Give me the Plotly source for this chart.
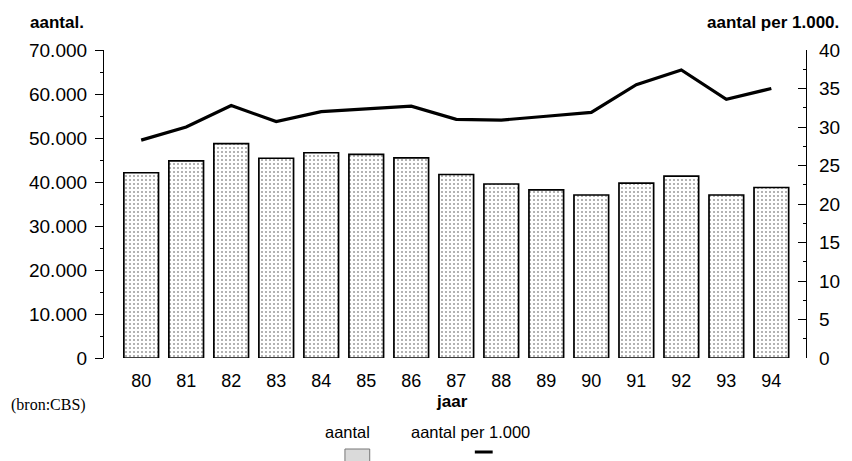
import plotly.graph_objects as go

jaren = [80, 81, 82, 83, 84, 85, 86, 87, 88, 89, 90, 91, 92, 93, 94]
jaar_labels = [str(j) for j in jaren]
aantal = [42100, 44800, 48700, 45400, 46650, 46300, 45500, 41700, 39550, 38200, 37050, 39750, 41350, 37050, 38750]
per_1000 = [28.3, 30.0, 32.8, 30.7, 32.0, 32.3, 32.7, 31.0, 30.9, 31.4, 31.9, 35.5, 37.4, 33.6, 35.0]
left_ticks = [0, 10000, 20000, 30000, 40000, 50000, 60000, 70000]
right_ticks = [0, 5, 10, 15, 20, 25, 30, 35, 40]

# page has an 8px body margin; figure is sized so it ends at the window edge
OFF = 8
PAGE_W, PAGE_H = 852, 461
W, H = PAGE_W - OFF, PAGE_H - OFF
PL, PR, PT, PB = 104, 812, 50, 358          # plot area in page pixels
L, R, T, B = PL - OFF, PAGE_W - PR, PT - OFF, PAGE_H - PB
PW, PH = PR - PL, PB - PT

def px(x):
    return (x - PL) / PW

def py(y):
    return (PB - y) / PH

SANS = "Liberation Sans, Arial, sans-serif"
SERIF = "Liberation Serif, Times New Roman, serif"

fig = go.Figure()
fig.add_trace(go.Bar(
    x=jaren, y=aantal, name="aantal", width=0.77,
    marker=dict(color="white", line=dict(color="black", width=1.7),
                pattern=dict(shape=".", fgcolor="#333", bgcolor="white", size=4, solidity=0.2)),
    yaxis="y", showlegend=False,
))
fig.add_trace(go.Scatter(
    x=jaren, y=per_1000, name="aantal per 1.000", mode="lines",
    line=dict(color="black", width=3.2), yaxis="y2", showlegend=False,
))

fig.update_layout(
    width=W, height=H, margin=dict(l=L, r=R, t=T, b=B, pad=0),
    paper_bgcolor="white", plot_bgcolor="white",
    separators=",.",
    font=dict(family=SANS, size=19, color="black"),
    xaxis=dict(range=[79.174, 94.77], tickvals=jaren, ticktext=jaar_labels,
               showgrid=False, zeroline=False, showline=False, ticks="",
               ticklabelstandoff=10, tickfont=dict(size=18)),
    yaxis=dict(range=[0, 70000], tickvals=left_ticks, tickformat=",",
               showgrid=False, zeroline=False, showline=True, linecolor="black", linewidth=1.2,
               ticks="outside", ticklen=8, tickwidth=1.2, tickcolor="black",
               minor=dict(dtick=5000, ticks="outside", ticklen=3, tickcolor="black", tickwidth=1),
               ticklabelstandoff=4, tickfont=dict(size=19)),
    yaxis2=dict(range=[0, 40], tickvals=right_ticks, overlaying="y", side="right",
                showgrid=False, zeroline=False, showline=True, linecolor="black", linewidth=1.2,
                ticks="inside", ticklen=8, tickwidth=1.2, tickcolor="black",
                minor=dict(dtick=2.5, ticks="inside", ticklen=3, tickcolor="black", tickwidth=1),
                ticklabelstandoff=8, tickfont=dict(size=19)),
)

ann = [
    dict(text="<b>aantal.</b>", x=px(27), y=py(22), xanchor="left", yanchor="middle", font=dict(size=17)),
    dict(text="<b>aantal per 1.000.</b>", x=px(847), y=py(22), xanchor="right", yanchor="middle", font=dict(size=17)),
    dict(text="<b>jaar</b>", x=px(455), y=py(401), xanchor="center", yanchor="middle", font=dict(size=17)),
    dict(text="(bron:CBS)", x=px(8), y=py(405), xanchor="left", yanchor="middle", font=dict(family=SERIF, size=16)),
    dict(text="aantal", x=px(350), y=py(432), xanchor="center", yanchor="middle", font=dict(size=16.5)),
    dict(text="aantal per 1.000", x=px(412), y=py(432), xanchor="left", yanchor="middle", font=dict(size=16.5)),
]
for a in ann:
    a.update(xref="paper", yref="paper", showarrow=False)
fig.update_layout(annotations=ann)

fig.update_layout(shapes=[
    dict(type="rect", xref="paper", yref="paper", x0=px(347), x1=px(372), y0=py(462), y1=py(449),
         fillcolor="#dadada", line=dict(color="#777", width=1)),
    dict(type="line", xref="paper", yref="paper", x0=px(478), x1=px(496), y0=py(452), y1=py(452),
         line=dict(color="black", width=3)),
])

fig.write_html("out.html")
